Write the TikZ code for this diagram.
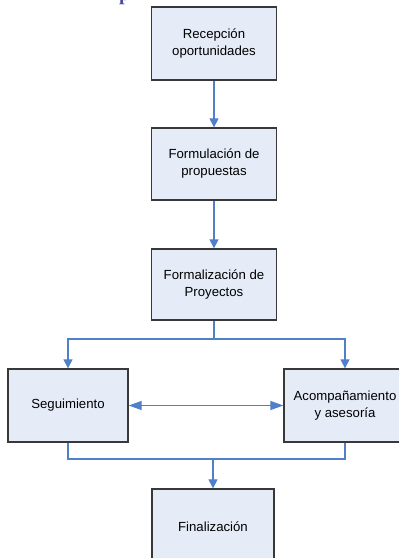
\documentclass[tikz,border=0pt]{standalone}
\usepackage{fontspec}
\setmainfont{Liberation Sans}
\newfontfamily\headfont{Liberation Serif}
\usetikzlibrary{arrows.meta}
\definecolor{boxfill}{HTML}{E6ECF7}
\definecolor{linkblue}{HTML}{5080C8}
\definecolor{headpurple}{HTML}{4B4F9A}
\begin{document}
\begin{tikzpicture}[x=1pt,y=-1pt,
  stepbox/.style={draw=black!78, line width=1.3pt, fill=boxfill,
    align=center, inner sep=2pt,
    font=\fontsize{13.2}{17}\selectfont},
  link/.style={draw=linkblue, line width=1.1pt},
  arrow/.style={link, -{Triangle[length=9pt,width=9pt]}},
  darrow/.style={link, {Triangle[length=13pt,width=9pt]}-{Triangle[length=13pt,width=9pt]}}]
\useasboundingbox (0,0) rectangle (399,558);
% clipped heading fragments at top
\begin{scope}
\clip (0,0) rectangle (399,6);
\node[font=\headfont\bfseries\fontsize{20}{20}\selectfont, text=headpurple,
  anchor=base west, inner sep=0pt] (hy) at (-6,0) {y};
\node[font=\headfont\bfseries\fontsize{20}{20}\selectfont, text=headpurple,
  anchor=base west, inner sep=0pt] (hp) at (119,0) {p};
\end{scope}
% boxes
\node[stepbox, minimum width=125pt, minimum height=73pt] (b1) at (214,43.5) {Recepción\\oportunidades};
\node[stepbox, minimum width=125pt, minimum height=72pt] (b2) at (214,164) {Formulación de\\propuestas};
\node[stepbox, minimum width=125pt, minimum height=71pt] (b3) at (214,284.5) {Formalización de\\Proyectos};
\node[stepbox, minimum width=120pt, minimum height=73pt] (bl) at (68,405.5) {Seguimiento};
\node[stepbox, minimum width=122pt, minimum height=73pt] (br) at (345,405.5) {Acompañamiento\\y asesoría};
\node[stepbox, minimum width=122pt, minimum height=76pt] (b5) at (213,527) {Finalización};
% connectors
\draw[arrow] (b1) -- (b2);
\draw[arrow] (b2) -- (b3);
\coordinate (j1) at (214,339);
\draw[link] (b3.south) -- (j1);
\draw[arrow] (j1) -| (bl.north);
\draw[arrow] (j1) -| (br.north);
\draw[darrow] (bl.east) -- (br.west);
\coordinate (m) at (213,459);
\draw[link] (bl.south) |- (m) -| (br.south);
\draw[arrow] (m) -- (b5.north);
\end{tikzpicture}
\end{document}
